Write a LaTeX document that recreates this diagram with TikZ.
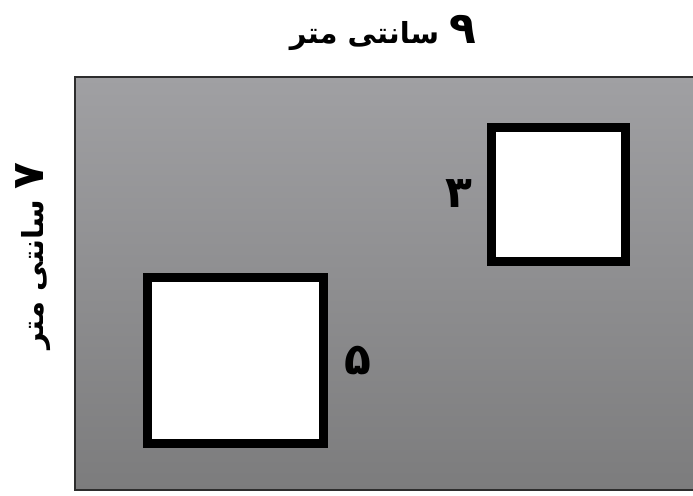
\documentclass[tikz,border=0pt]{standalone}
\usepackage{fontspec}
\newfontfamily\arabicfont[Script=Arabic]{DejaVu Sans}
\TeXXeTstate=1
\usetikzlibrary{positioning}
\definecolor{sheettop}{RGB}{160,160,163}
\definecolor{sheetbot}{RGB}{124,124,125}
\definecolor{edgegray}{RGB}{45,45,45}
\newcommand\bigdigit[1]{{\fontsize{44}{48}\selectfont #1}}
\tikzset{
  hole/.style={draw=black, fill=white, line width=9pt, inner sep=0pt},
  fa/.style={font=\arabicfont\bfseries\fontsize{29}{34}\selectfont, inner sep=0pt}
}
\begin{document}
\begin{tikzpicture}[x=1pt, y=-1pt]
\useasboundingbox (0,0) rectangle (693,495);
\shade[top color=sheettop, bottom color=sheetbot] (75,77) rectangle (693,490);
\draw[edgegray, line width=2pt](693,77)--(75,77)--(75,490)--(693,490);
\node[hole, minimum width=134pt, minimum height=134pt](small) at (558.5,194){};
\node[hole, minimum width=176pt, minimum height=166pt](big) at (235.5,360.5){};
\node[fa, left=14pt of small](smalllab){\beginR\bigdigit{۳}\endR};
\node[fa, right=16pt of big](biglab){\beginR\bigdigit{۵}\endR};
\node[fa](top) at (383,33){\beginR\bigdigit{۹} سانتی متر\endR};
\node[fa, rotate=90](side) at (33,256){\beginR\bigdigit{۷} سانتی متر\endR};
\end{tikzpicture}
\end{document}
